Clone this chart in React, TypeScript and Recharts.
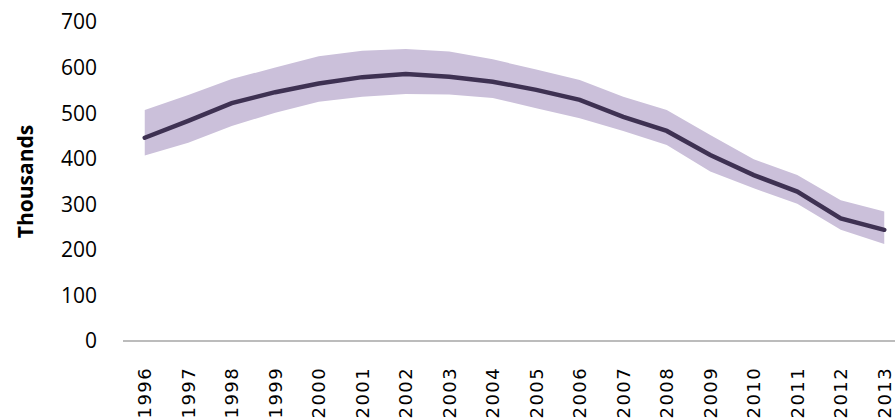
import React from "react";
import {
   ComposedChart,
   Area,
   Line,
   XAxis,
   YAxis,
} from "recharts";

const years = [
   "1996", "1997", "1998", "1999", "2000", "2001", "2002", "2003", "2004",
   "2005", "2006", "2007", "2008", "2009", "2010", "2011", "2012", "2013",
];
const central = [446, 483, 522, 546, 565, 579, 586, 580, 569, 551, 529, 492, 461, 408, 364, 328, 269, 244];
const upper = [507, 540, 575, 600, 625, 637, 641, 635, 618, 596, 573, 536, 507, 452, 399, 364, 309, 284];
const lower = [407, 435, 472, 501, 525, 536, 542, 541, 533, 511, 489, 461, 430, 372, 335, 301, 244, 213];
const yTicks = [0, 100, 200, 300, 400, 500, 600, 700];

const data = years.map((year, i) => ({
   year,
   value: central[i],
   range: [lower[i], upper[i]],
}));

const YearTick = (props: any) => {
   const { x, y, payload } = props;
   return (
      <g transform={`translate(${x},${y + 18})`}>
         <text
            transform="rotate(-90)"
            textAnchor="end"
            dy="0.36em"
            fontFamily="DejaVu Sans"
            fontSize={18}
            letterSpacing={1.4}
            fill="#000"
         >
            {payload.value}
         </text>
      </g>
   );
};

const App: React.FC = () => {
   return (
      <div
         style={{
            position: "absolute",
            left: 0,
            top: 0,
            width: 895,
            height: 419,
            overflow: "hidden",
            background: "#fff",
         }}
      >
         <ComposedChart
            width={910}
            height={419}
            data={data}
            margin={{ top: 22, right: 4, bottom: 0, left: 0 }}
         >
            <XAxis
               dataKey="year"
               interval={0}
               padding={{ left: 21.75, right: 21.75 }}
               tickLine={false}
               axisLine={{ stroke: "#a6a6a6", strokeWidth: 1.5 }}
               tick={<YearTick />}
               height={78}
            />
            <YAxis
               width={123}
               domain={[0, 700]}
               ticks={yTicks}
               axisLine={false}
               tickLine={false}
               tickSize={0}
               tickMargin={26}
               tick={{ fontFamily: "Open Sans", fontSize: 21, fill: "#000" }}
               label={{
                  content: (p: any) => {
                     const vb = p.viewBox;
                     const cx = vb.x + 25;
                     const cy = vb.y + vb.height / 2;
                     return (
                        <text
                           x={cx}
                           y={cy}
                           transform={`rotate(-90, ${cx}, ${cy})`}
                           textAnchor="middle"
                           dominantBaseline="central"
                           fontFamily="Open Sans"
                           fontWeight="bold"
                           fontSize={21}
                           fill="#000"
                        >
                           Thousands
                        </text>
                     );
                  },
               }}
            />
            <Area
               dataKey="range"
               type="linear"
               stroke="none"
               fill="#cbc0da"
               fillOpacity={1}
               isAnimationActive={false}
            />
            <Line
               dataKey="value"
               type="linear"
               stroke="#3e3152"
               strokeWidth={4.5}
               strokeLinecap="round"
               dot={false}
               isAnimationActive={false}
            />
         </ComposedChart>
      </div>
   );
};

export default App;
